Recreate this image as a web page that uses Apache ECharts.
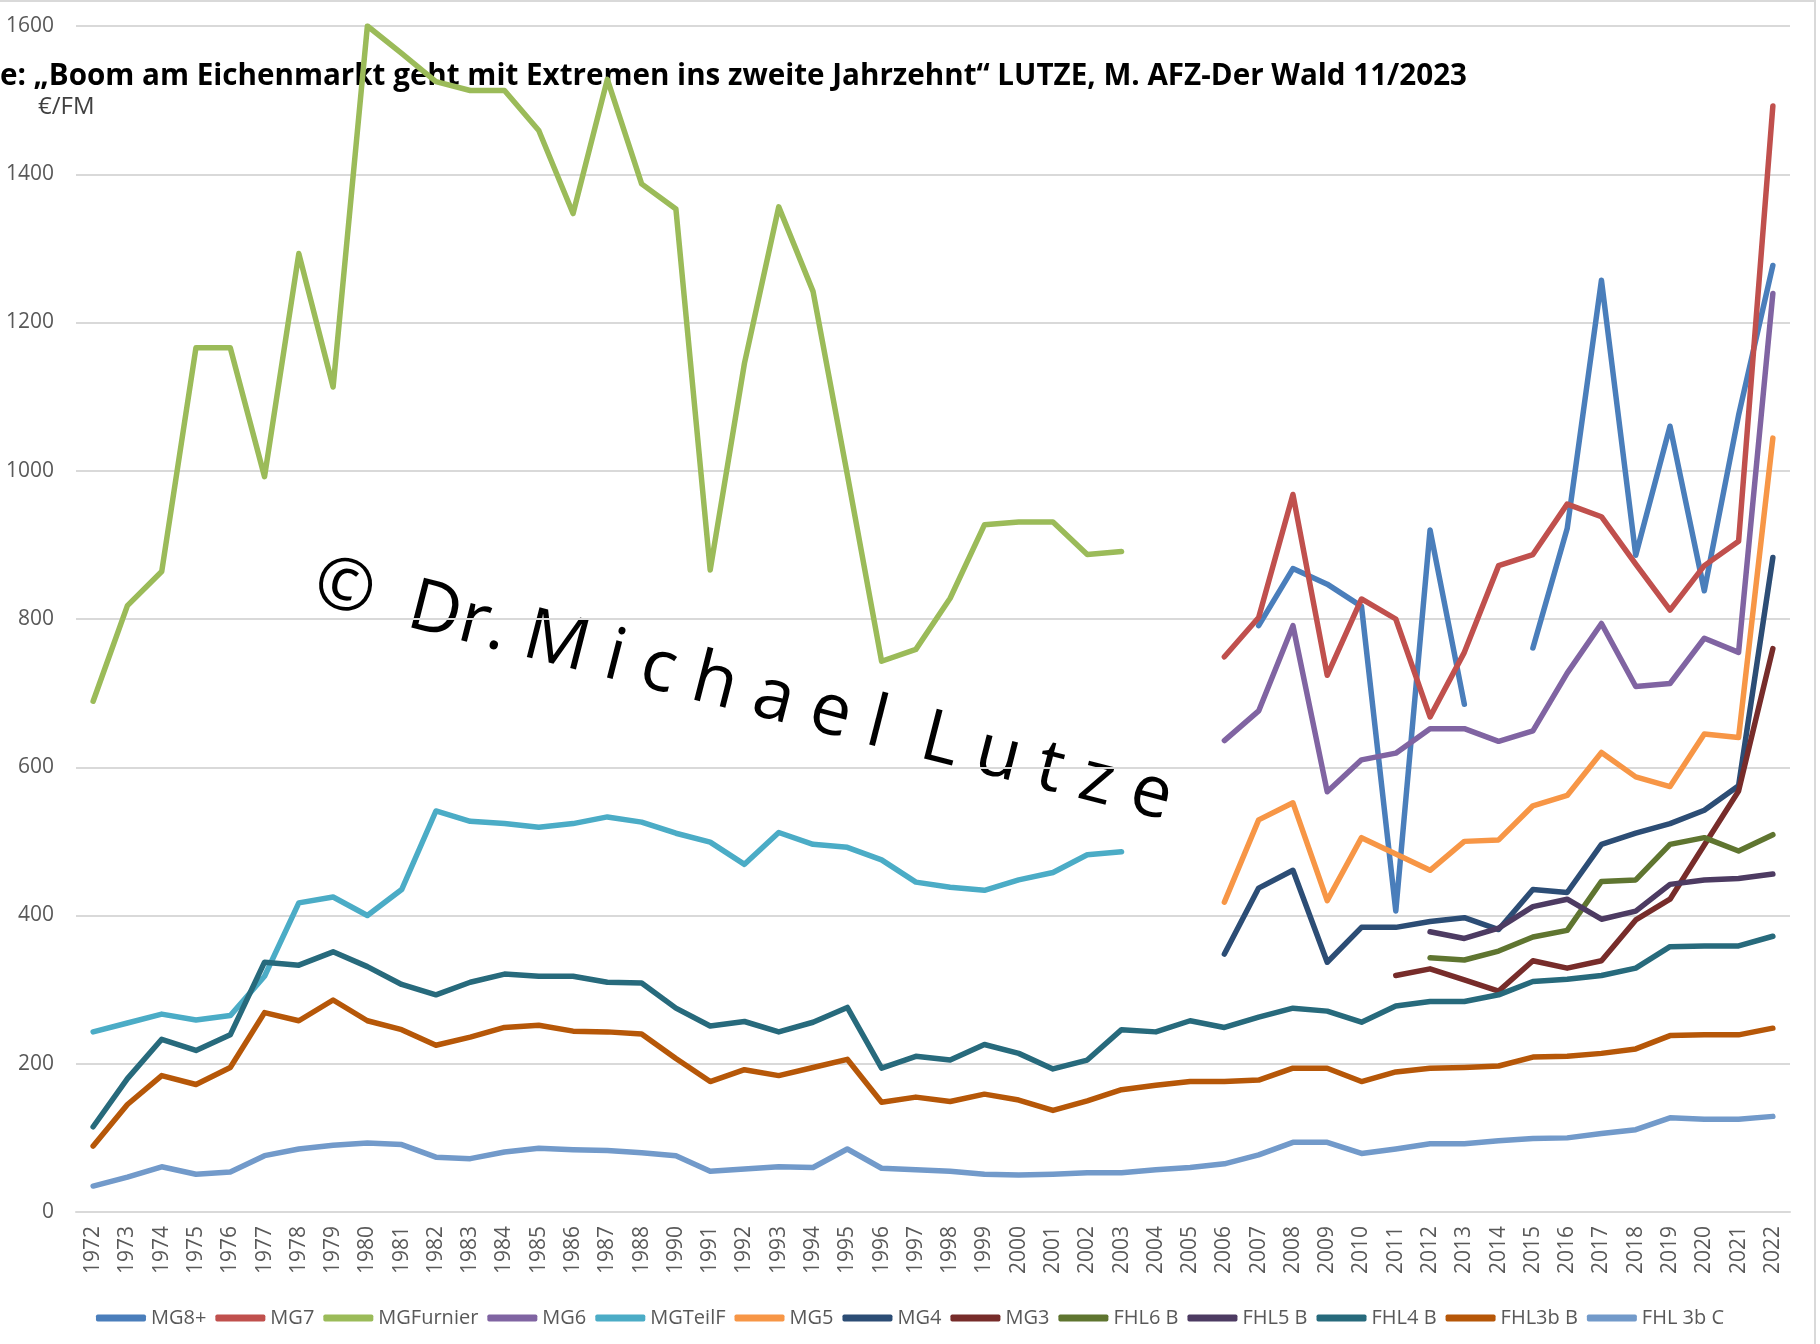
<!DOCTYPE html>
<html>
<head>
<meta charset="utf-8">
<script src="https://cdn.jsdelivr.net/npm/echarts@6/dist/echarts.min.js"></script>
<style>
html,body{margin:0;padding:0;background:#fff;}
#chart{width:1820px;height:1344px;}
</style>
</head>
<body>
<div id="chart"></div>
<script>
// Tick labels (category axis) - note: 1989 is absent in the source
const years = ['1972','1973','1974','1975','1976','1977','1978','1979','1980','1981','1982','1983','1984','1985','1986','1987','1988',
  '1990','1991','1992','1993','1994','1995','1996','1997','1998','1999','2000','2001','2002','2003','2004','2005',
  '2006','2007','2008','2009','2010','2011','2012','2013','2014','2015','2016','2017','2018','2019','2020','2021','2022'];

// Long series 1972–2003 (then no data)
const mgFurnier = [689,818,864,1166,1166,992,1293,1113,1600,1563,1525,1513,1513,1459,1347,1528,1387,1353,866,1145,1356,1242,995,743,759,828,927,931,931,887,891];
const mgTeilF   = [243,255,267,259,265,318,417,425,400,435,541,527,524,519,524,533,526,511,499,469,512,496,492,475,445,438,434,448,458,482,486];

// Full series 1972–2022
const fhl4B  = [115,180,233,218,239,337,333,351,331,307,293,310,321,318,318,310,309,275,251,257,243,256,276,194,210,205,226,214,193,205,246,243,258,249,263,275,271,256,278,284,284,293,311,314,319,329,358,359,359,372];
const fhl3bB = [89,145,184,172,195,269,258,286,258,246,225,236,249,252,244,243,240,207,176,192,184,195,206,148,155,149,159,151,137,150,165,171,176,176,178,194,194,176,189,194,195,197,209,210,214,220,238,239,239,248];
const fhl3bC = [35,47,61,51,54,76,85,90,93,91,74,72,81,86,84,83,80,76,55,58,61,60,85,59,57,55,51,50,51,53,53,57,60,65,77,94,94,79,85,92,92,96,99,100,106,111,127,125,125,129];

// Recent series 2006–2022
const mg8 = [null,791,868,847,817,406,920,685,null,761,922,1257,886,1060,838,1075,1277];
const mg7 = [749,802,968,724,827,800,668,755,872,887,955,938,874,812,872,905,1492];
const mg6 = [636,676,791,567,610,619,652,652,635,649,727,794,709,713,774,755,1239];
const mg5 = [418,529,552,420,505,483,461,500,502,548,562,620,587,574,645,640,1044];
const mg4 = [348,437,461,337,384,384,392,397,381,435,431,496,511,524,542,575,883];
const mg3 = [null,null,null,null,null,319,328,313,298,339,329,339,394,422,495,568,760];
const fhl6B = [null,null,null,null,null,null,343,340,352,371,380,446,448,496,505,487,509];
const fhl5B = [null,null,null,null,null,null,378,369,383,412,422,395,406,442,448,450,456];

const seriesNames = ['MG8+','MG7','MGFurnier','MG6','MGTeilF','MG5','MG4','MG3','FHL6 B','FHL5 B','FHL4 B','FHL3b B','FHL 3b C'];
const colors = ['#4a7ebb','#c0504d','#9bbb59','#8064a2','#4bacc6','#f79646','#2c4d75','#772c2a','#5f7530','#4d3b62','#276a7c','#b65708','#729aca'];

function padEnd(arr){ const a = arr.slice(); while(a.length < years.length) a.push(null); return a; }
function padStart(arr){ const a = arr.slice(); while(a.length < years.length) a.unshift(null); return a; }

const dataList = [padStart(mg8), padStart(mg7), padEnd(mgFurnier), padStart(mg6), padEnd(mgTeilF), padStart(mg5), padStart(mg4), padStart(mg3), padStart(fhl6B), padStart(fhl5B), fhl4B, fhl3bB, fhl3bC];

const FONT = '"Open Sans", "Liberation Sans", sans-serif';
const chart = echarts.init(document.getElementById('chart'), null, {renderer:'canvas'});

chart.setOption({
  animation: false,
  backgroundColor: '#fff',
  color: colors,
  grid: { left: 76, right: 30, top: 26, bottom: 132, containLabel: false },
  xAxis: {
    type: 'category',
    data: years,
    boundaryGap: true,
    axisLine: { show: true, lineStyle: { color: '#d9d9d9', width: 2 } },
    axisTick: { show: false },
    axisLabel: { interval: 0, rotate: 90, color: '#595959', fontSize: 21, fontFamily: FONT, margin: 14 }
  },
  yAxis: {
    type: 'value',
    min: 0, max: 1600, interval: 200,
    axisLine: { show: false },
    axisTick: { show: false },
    axisLabel: { color: '#595959', fontSize: 21, fontFamily: FONT, margin: 22, formatter: v => String(v) },
    splitLine: { lineStyle: { color: '#d9d9d9', width: 2 } }
  },
  legend: {
    bottom: 11,
    left: 'center',
    itemWidth: 50,
    itemHeight: 7,
    itemGap: 9,
    icon: 'roundRect',
    textStyle: { color: '#595959', fontSize: 20, fontFamily: FONT },
    data: seriesNames
  },
  series: seriesNames.map((n, i) => ({
    name: n,
    type: 'line',
    data: dataList[i],
    showSymbol: false,
    symbol: 'none',
    connectNulls: false,
    lineStyle: { width: 5.5, color: colors[i], cap: 'round', join: 'round' },
    itemStyle: { color: colors[i] }
  })),
  graphic: [
    { type: 'rect', silent: true, shape: { x: -10, y: 1, width: 1825, height: 1400 }, style: { fill: 'none', stroke: '#d9d9d9', lineWidth: 2 } },
    { type: 'text', x: 0, y: 77, style: { text: 'e: „Boom am Eichenmarkt geht mit Extremen ins zweite Jahrzehnt“ LUTZE, M. AFZ-Der Wald 11/2023', font: 'bold 29.6px ' + FONT, fill: '#000', textVerticalAlign: 'middle' } },
    { type: 'text', x: 38, y: 107, style: { text: '€/FM', font: '24px ' + FONT, fill: '#404040', textVerticalAlign: 'middle' } },
    { type: 'text', x: 743, y: 691, rotation: -0.25, style: { text: '©  Dr. M i c h a e l  L u t z e', font: '72px ' + FONT, fill: '#000', textAlign: 'center', textVerticalAlign: 'middle' } }
  ]
});
</script>
</body>
</html>
